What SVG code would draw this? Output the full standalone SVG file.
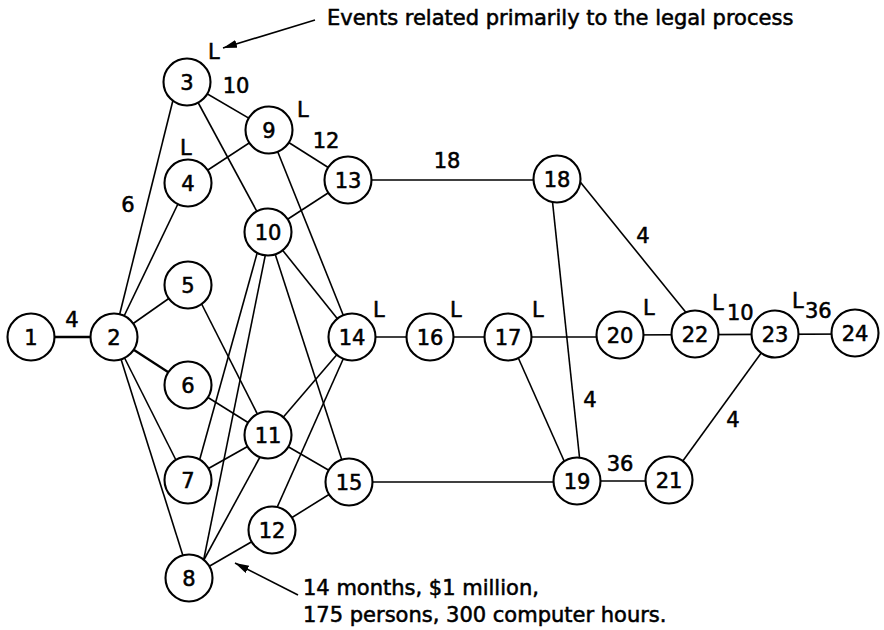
<svg xmlns="http://www.w3.org/2000/svg" width="884" height="630" viewBox="0 0 884 630">
<style>
  .e { stroke: #000; stroke-width: 1.6; fill: none; }
  .b { stroke-width: 2.3; }
  .n circle { fill: #fff; stroke: #000; stroke-width: 2.1; }
  text { font-family: "DejaVu Sans", "Liberation Sans", sans-serif; font-size: 21px; fill: #000; stroke: #000; stroke-width: 0.55; }
  .n text { text-anchor: middle; }
  .c { text-anchor: middle; }
</style>
<defs>
  <marker id="ah" markerUnits="userSpaceOnUse" markerWidth="16" markerHeight="10" refX="14" refY="4" orient="auto">
    <path d="M0,0 L14,4 L0,8 Z" fill="#000"/>
  </marker>
</defs>
<rect width="884" height="630" fill="#fff"/>
<g id="connectors">
  <line class="e b" x1="31" y1="337" x2="114" y2="337"/>
  <line class="e" x1="114" y1="337" x2="177" y2="84"/>
  <line class="e" x1="114" y1="337" x2="188" y2="183"/>
  <line class="e" x1="114" y1="337" x2="188" y2="285"/>
  <line class="e b" x1="114" y1="337" x2="188" y2="385"/>
  <line class="e" x1="114" y1="337" x2="186" y2="480"/>
  <line class="e" x1="114" y1="337" x2="190" y2="578"/>
  <line class="e" x1="187" y1="82" x2="269" y2="130"/>
  <line class="e" x1="187" y1="82" x2="268" y2="232"/>
  <line class="e" x1="188" y1="183" x2="269" y2="130"/>
  <line class="e" x1="269" y1="130" x2="348" y2="180"/>
  <line class="e" x1="269" y1="130" x2="352" y2="337"/>
  <line class="e" x1="268" y1="232" x2="348" y2="180"/>
  <line class="e" x1="268" y1="232" x2="352" y2="337"/>
  <line class="e" x1="268" y1="232" x2="349" y2="482"/>
  <line class="e" x1="263" y1="232" x2="194" y2="480"/>
  <line class="e" x1="270" y1="232" x2="200" y2="578"/>
  <line class="e" x1="192" y1="285" x2="268" y2="435"/>
  <line class="e" x1="188" y1="385" x2="268" y2="435"/>
  <line class="e" x1="188" y1="480" x2="268" y2="435"/>
  <line class="e" x1="194" y1="578" x2="272" y2="435"/>
  <line class="e" x1="189" y1="578" x2="272" y2="530"/>
  <line class="e" x1="268" y1="435" x2="352" y2="337"/>
  <line class="e" x1="268" y1="435" x2="349" y2="482"/>
  <line class="e" x1="267" y1="530" x2="353" y2="337"/>
  <line class="e" x1="272" y1="530" x2="349" y2="482"/>
  <line class="e" x1="348" y1="180" x2="557" y2="180"/>
  <line class="e" x1="352" y1="337" x2="620" y2="337"/>
  <line class="e" x1="620" y1="335" x2="855" y2="334"/>
  <line class="e" x1="349" y1="482" x2="577" y2="482"/>
  <line class="e" x1="577" y1="481" x2="669" y2="481"/>
  <line class="e" x1="509" y1="337" x2="573" y2="481"/>
  <line class="e" x1="550" y1="178" x2="582" y2="481"/>
  <line class="e" x1="577" y1="178" x2="688" y2="315"/>
  <line class="e" x1="669" y1="480" x2="775" y2="334"/>
  <line class="e" x1="315" y1="20" x2="223" y2="48" marker-end="url(#ah)"/>
  <line class="e" x1="298" y1="595" x2="235" y2="563" marker-end="url(#ah)"/>
</g>
<g id="n1" class="n"><circle cx="31" cy="337" r="23.5"/><text x="31" y="345">1</text></g>
<g id="n2" class="n"><circle cx="114" cy="337" r="23.5"/><text x="114" y="345">2</text></g>
<g id="n3" class="n"><circle cx="187" cy="82" r="23.5"/><text x="187" y="90">3</text></g>
<g id="n4" class="n"><circle cx="188" cy="183" r="23.5"/><text x="188" y="191">4</text></g>
<g id="n5" class="n"><circle cx="188" cy="285" r="23.5"/><text x="188" y="293">5</text></g>
<g id="n6" class="n"><circle cx="188" cy="385" r="23.5"/><text x="188" y="393">6</text></g>
<g id="n7" class="n"><circle cx="188" cy="480" r="23.5"/><text x="188" y="488">7</text></g>
<g id="n8" class="n"><circle cx="189" cy="578" r="23.5"/><text x="189" y="586">8</text></g>
<g id="n9" class="n"><circle cx="269" cy="130" r="23.5"/><text x="269" y="138">9</text></g>
<g id="n10" class="n"><circle cx="268" cy="232" r="23.5"/><text x="268" y="240">10</text></g>
<g id="n11" class="n"><circle cx="268" cy="435" r="23.5"/><text x="268" y="443">11</text></g>
<g id="n12" class="n"><circle cx="272" cy="530" r="23.5"/><text x="272" y="538">12</text></g>
<g id="n13" class="n"><circle cx="348" cy="180" r="23.5"/><text x="348" y="188">13</text></g>
<g id="n14" class="n"><circle cx="352" cy="337" r="23.5"/><text x="352" y="345">14</text></g>
<g id="n15" class="n"><circle cx="349" cy="482" r="23.5"/><text x="349" y="490">15</text></g>
<g id="n16" class="n"><circle cx="430" cy="337" r="23.5"/><text x="430" y="345">16</text></g>
<g id="n17" class="n"><circle cx="508" cy="337" r="23.5"/><text x="508" y="345">17</text></g>
<g id="n18" class="n"><circle cx="557" cy="179" r="23.5"/><text x="557" y="187">18</text></g>
<g id="n19" class="n"><circle cx="577" cy="481" r="23.5"/><text x="577" y="489">19</text></g>
<g id="n20" class="n"><circle cx="620" cy="335" r="23.5"/><text x="620" y="343">20</text></g>
<g id="n21" class="n"><circle cx="669" cy="480" r="23.5"/><text x="669" y="488">21</text></g>
<g id="n22" class="n"><circle cx="695" cy="334" r="23.5"/><text x="695" y="342">22</text></g>
<g id="n23" class="n"><circle cx="775" cy="334" r="23.5"/><text x="775" y="342">23</text></g>
<g id="n24" class="n"><circle cx="855" cy="333" r="23.5"/><text x="855" y="341">24</text></g>
<g id="labels">
  <text class="c" x="72" y="327">4</text>
  <text class="c" x="128" y="212">6</text>
  <text class="c" x="236" y="93">10</text>
  <text x="208" y="59">L</text>
  <text x="297" y="117">L</text>
  <text class="c" x="326" y="148">12</text>
  <text x="180" y="155">L</text>
  <text class="c" x="447" y="168">18</text>
  <text class="c" x="643" y="243">4</text>
  <text x="373" y="317">L</text>
  <text x="450" y="317">L</text>
  <text x="532" y="317">L</text>
  <text x="643" y="315">L</text>
  <text x="712" y="310">L</text>
  <text x="727" y="320">10</text>
  <text x="792" y="308">L</text>
  <text x="805" y="318">36</text>
  <text class="c" x="590" y="407">4</text>
  <text class="c" x="733" y="427">4</text>
  <text class="c" x="620" y="471">36</text>
  <text x="327" y="25">Events related primarily to the legal process</text>
  <text x="303" y="595">14 months, $1 million,</text>
  <text x="303" y="622">175 persons, 300 computer hours.</text>
</g>
</svg>
